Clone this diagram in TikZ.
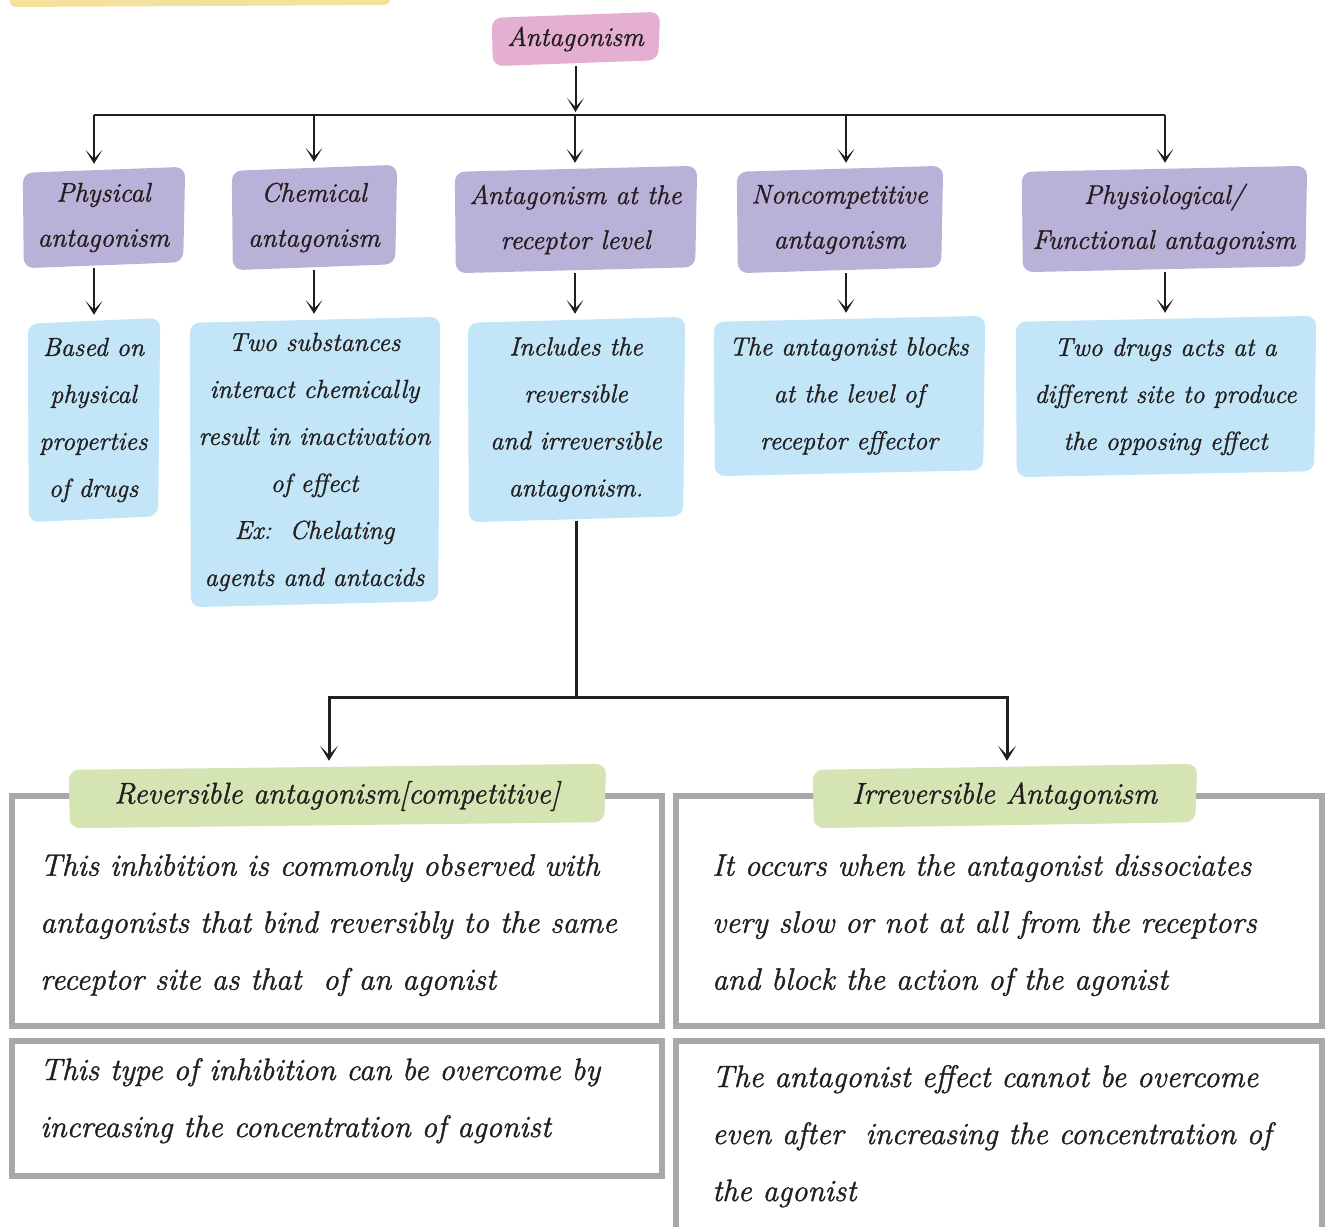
\documentclass[tikz,border=0pt]{standalone}
\usepackage{fontspec}
\setmainfont{Latin Modern Roman}
\usetikzlibrary{arrows.meta,backgrounds}
\definecolor{ink}{HTML}{231F20}
\definecolor{pinkc}{HTML}{E4AFD1}
\definecolor{purplec}{HTML}{BAB1D8}
\definecolor{bluec}{HTML}{C2E6F8}
\definecolor{greenc}{HTML}{D4E4B3}
\definecolor{greyc}{HTML}{A7A8AC}
\definecolor{yellowc}{HTML}{F4E29C}
\newcommand\wob[2]{\fill[#2,rounded corners=10pt] ([shift={(1pt,-6pt)}]#1.north west) -- (#1.north east) -- ([shift={(-2pt,6pt)}]#1.south east) -- ([shift={(2pt,0pt)}]#1.south west) -- cycle;}
\newcommand\hwfont{\itshape\addfontfeature{FakeBold=1.2}}
\tikzset{
 lvlzero/.style={inner sep=0, align=center, text=ink, font=\fontsize{27}{44}\selectfont\hwfont},
 lvlone/.style={inner sep=0, align=center, text=ink, font=\fontsize{27}{45}\selectfont\hwfont},
 lvltwo/.style={inner sep=0, align=center, text=ink, font=\fontsize{26}{47}\selectfont\hwfont},
 bodytext/.style={inner sep=0, align=left, anchor=north west, text=ink, font=\fontsize{31}{57}\selectfont\hwfont},
 glabel/.style={inner sep=0, align=center, text=ink, font=\fontsize{30}{40}\selectfont\hwfont},
 arr/.style={draw=ink, line width=2pt, shorten >=3pt, -{Stealth[length=14pt,width=17pt,inset=9pt]}},
 ln/.style={draw=ink, line width=2pt},
 arrb/.style={draw=ink, line width=3pt, shorten >=3pt, -{Stealth[length=15pt,width=18pt,inset=9pt]}},
 lnb/.style={draw=ink, line width=3pt, line cap=rect},
 gframe/.style={draw=greyc, line width=5.5pt},
}
\begin{document}
\begin{tikzpicture}[x=1pt,y=-1pt]
\useasboundingbox (0,0) rectangle (1325,1226);

% level 0
\node[lvlzero, minimum width=169pt, minimum height=54pt] (top) at (575.5,39) {Antagonism};
% level 1
\node[lvlone, minimum width=163pt, minimum height=101pt] (p1) at (103.5,217.5) {Physical\\antagonism};
\node[lvlone, minimum width=166pt, minimum height=105pt] (p2) at (314,217.5) {Chemical\\antagonism};
\node[lvlone, minimum width=243pt, minimum height=107pt] (p3) at (575.5,219.5) {Antagonism at the\\receptor level};
\node[lvlone, minimum width=207pt, minimum height=107pt] (p4) at (839.5,219.5) {Noncompetitive\\antagonism};
\node[lvlone, minimum width=286pt, minimum height=106pt] (p5) at (1164,219) {Physiological/\\Functional antagonism};
% level 2
\node[lvltwo, minimum width=133pt, minimum height=204pt] (b1) at (93.5,420) {Based on\\physical\\properties\\of drugs};
\node[lvltwo, minimum width=251pt, minimum height=290pt] (b2) at (314.5,462) {Two substances\\interact chemically\\result in inactivation\\of effect\\Ex:\ \ Chelating\\agents and antacids};
\node[lvltwo, minimum width=218pt, minimum height=205pt] (b3) at (576,419.5) {Includes the\\reversible\\and irreversible\\antagonism.};
\node[lvltwo, minimum width=272pt, minimum height=160pt] (b4) at (849,396) {The antagonist blocks\\at the level of\\receptor effector};
\node[lvltwo, minimum width=301pt, minimum height=161pt] (b5) at (1165.5,396.5) {Two drugs acts at a\\different site to produce\\the opposing effect};
% green labels
\node[glabel, minimum width=538pt, minimum height=64pt] (g1) at (337,796) {Reversible antagonism[competitive]};
\node[glabel, minimum width=385pt, minimum height=64pt] (g2) at (1004.5,796) {Irreversible Antagonism};
% body texts
\node[bodytext] (t1) at (40,854) {This inhibition is commonly observed with\\antagonists that bind reversibly to the same\\receptor site as that\ \ of an agonist};
\node[bodytext] (t2) at (40,1058) {This type of inhibition can be overcome by\\increasing the concentration of agonist};
\node[bodytext] (t3) at (712,854) {It occurs when the antagonist dissociates\\very slow or not at all from the receptors\\and block the action of the agonist};
\node[bodytext] (t4) at (712,1065) {The antagonist effect cannot be overcome\\even after\ \ increasing the concentration of\\the agonist};

% connectors
\coordinate (j1) at (94,115);
\coordinate (j2) at (314,115);
\coordinate (j3) at (575,115);
\coordinate (j4) at (846,115);
\coordinate (j5) at (1165,115);
\draw[arr] (top.south) -- (top.south |- j1);
\draw[ln] (j1) -- (j5);
\foreach \i in {1,...,5}{
  \draw[arr] (j\i) -- (j\i |- p\i.north);
  \draw[arr] (j\i |- p\i.south) -- (j\i |- b\i.north);
}
\coordinate (m1) at (329,697);
\coordinate (m2) at (1007,697);
\draw[lnb] (b3.south) -- (b3.south |- m1);
\draw[lnb] (m1) -- (m2);
\draw[arrb] (m1) -- (m1 |- g1.north);
\draw[arrb] (m2) -- (m2 |- g2.north);

\begin{scope}[on background layer]
  \fill[yellowc, rounded corners=6pt] (8,-20) -- (392,-20) -- (390,5) -- (10,7) -- cycle;
  \wob{top}{pinkc}
  \foreach \i in {1,...,5}{\wob{p\i}{purplec}}
  \foreach \i in {1,...,5}{\wob{b\i}{bluec}}
  \draw[gframe] (12,796) rectangle (662,1026);
  \draw[gframe] (676,796) rectangle (1322,1026);
  \draw[gframe] (12,1041) rectangle (662,1176);
  \draw[gframe] (676,1240) -- (676,1041) -- (1322,1041) -- (1322,1240);
  \wob{g1}{greenc}
  \wob{g2}{greenc}
\end{scope}
\end{tikzpicture}
\end{document}
